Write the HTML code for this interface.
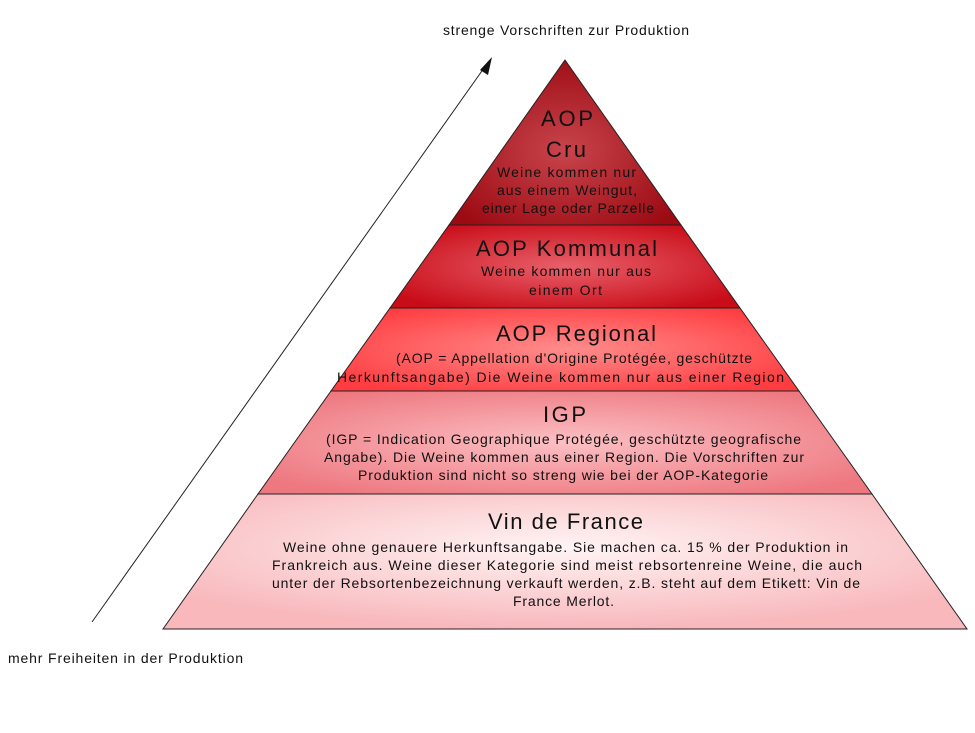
<!DOCTYPE html>
<html><head><meta charset="utf-8"><style>
body{margin:0;background:#fff}
svg text{font-family:"Liberation Sans",sans-serif;fill:#111}
</style></head><body>
<svg width="975" height="728" viewBox="0 0 975 728" xmlns="http://www.w3.org/2000/svg">
<defs>
<radialGradient id="g1" cx="50%" cy="55%" r="60%"><stop offset="0" stop-color="#c8444c"/><stop offset="1" stop-color="#9c0a12"/></radialGradient>
<radialGradient id="g2" cx="50%" cy="50%" r="60%"><stop offset="0" stop-color="#e8606a"/><stop offset="1" stop-color="#c80c18"/></radialGradient>
<radialGradient id="g3" cx="50%" cy="50%" r="60%"><stop offset="0" stop-color="#ff8c8c"/><stop offset="1" stop-color="#ff3c40"/></radialGradient>
<radialGradient id="g4" cx="50%" cy="50%" r="60%"><stop offset="0" stop-color="#fbc0c4"/><stop offset="1" stop-color="#ee7880"/></radialGradient>
<radialGradient id="g5" cx="50%" cy="40%" r="60%"><stop offset="0" stop-color="#fff4f4"/><stop offset="1" stop-color="#f8b8bc"/></radialGradient>
</defs>
<g stroke="#222" stroke-width="1">
<polygon points="565,60 681,225 449,225" fill="url(#g1)"/>
<polygon points="449,225 681,225 740,308 390,308" fill="url(#g2)"/>
<polygon points="390,308 740,308 799,391 331,391" fill="url(#g3)"/>
<polygon points="331,391 799,391 872,494 258,494" fill="url(#g4)"/>
<polygon points="258,494 872,494 967,629 163,629" fill="url(#g5)"/>
</g>
<line x1="92" y1="622" x2="484" y2="68" stroke="#222" stroke-width="1"/>
<polygon points="492,57 480,70 488,75" fill="#111"/>
<g font-size="14" lengthAdjust="spacingAndGlyphs">
<text x="443" y="35" textLength="246">strenge Vorschriften zur Produktion</text>
<text x="8" y="663" textLength="235">mehr Freiheiten in der Produktion</text>
<text x="497" y="177" textLength="139">Weine kommen nur</text>
<text x="497" y="195" textLength="140">aus einem Weingut,</text>
<text x="482" y="213" textLength="172">einer Lage oder Parzelle</text>
<text x="481" y="276" textLength="170">Weine kommen nur aus</text>
<text x="529" y="295" textLength="73">einem Ort</text>
<text x="396" y="363" textLength="356">(AOP = Appellation d'Origine Protégée, geschützte</text>
<text x="337" y="382" textLength="447">Herkunftsangabe) Die Weine kommen nur aus einer Region</text>
<text x="326" y="444" textLength="475">(IGP = Indication Geographique Protégée, geschützte geografische</text>
<text x="324" y="462" textLength="480">Angabe). Die Weine kommen aus einer Region. Die Vorschriften zur</text>
<text x="358" y="480" textLength="410">Produktion sind nicht so streng wie bei der AOP-Kategorie</text>
<text x="283" y="552" textLength="565">Weine ohne genauere Herkunftsangabe. Sie machen ca. 15 % der Produktion in</text>
<text x="272" y="570" textLength="590">Frankreich aus. Weine dieser Kategorie sind meist rebsortenreine Weine, die auch</text>
<text x="272" y="588" textLength="588">unter der Rebsortenbezeichnung verkauft werden, z.B. steht auf dem Etikett: Vin de</text>
<text x="513" y="606" textLength="101">France Merlot.</text>
</g>
<g font-size="22" lengthAdjust="spacingAndGlyphs">
<text x="541" y="126" textLength="52">AOP</text>
<text x="546" y="157" textLength="40">Cru</text>
<text x="476" y="256" textLength="181">AOP Kommunal</text>
<text x="496" y="341" textLength="160">AOP Regional</text>
<text x="543" y="422" textLength="43">IGP</text>
<text x="488" y="529" textLength="155">Vin de France</text>
</g>
</svg>
</body></html>
